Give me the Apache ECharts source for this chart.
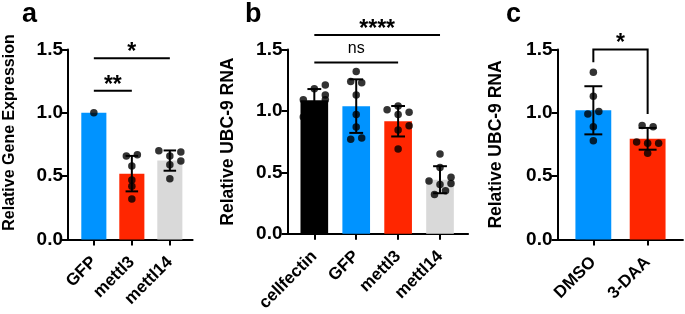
<!DOCTYPE html>
<html>
<head>
<meta charset="utf-8">
<script src="https://cdn.jsdelivr.net/npm/echarts@6/dist/echarts.min.js"></script>
<style>
html, body { margin: 0; padding: 0; background: #fff; }
#chart { width: 685px; height: 314px; }
</style>
</head>
<body>
<div id="chart"></div>
<script>
// panel a
const aCategories = ['GFP', 'mettl3', 'mettl14'];
const aMeans = [1.0, 0.52, 0.623];
const aSD = [0, 0.14, 0.08];
const aPoints = [[1.0], [0.66, 0.67, 0.58, 0.47, 0.42, 0.32], [0.70, 0.69, 0.66, 0.62, 0.59, 0.48]];
const aSig = [[0, 1, 1.175, '**'], [0, 2, 1.43, '*']];

// panel b
const bCategories = ['cellfectin', 'GFP', 'mettl3', 'mettl14'];
const bMeans = [1.086, 1.039, 0.916, 0.44];
const bSD = [0.092, 0.218, 0.124, 0.11];
const bPoints = [
    [1.09, 1.18, 1.21, 1.13, 1.09, 1.00, 0.95],
    [1.32, 1.24, 1.23, 1.13, 0.97, 0.87, 0.77, 0.78],
    [1.01, 1.04, 0.99, 0.97, 0.88, 0.845, 0.69],
    [0.65, 0.54, 0.46, 0.43, 0.41, 0.40, 0.35, 0.32]
];
const bSig = [[0, 2, 1.394, 'ns'], [0, 3, 1.618, '****']];

// panel c
const cCategories = ['DMSO', '3-DAA'];
const cMeans = [1.02, 0.795];
const cSD = [0.19, 0.086];
const cPoints = [[1.32, 1.13, 0.99, 1.01, 0.89, 0.78], [0.90, 0.89, 0.77, 0.76, 0.76, 0.68]];
const cSig = [[0, 1, 1.5, '*', 1.40, 0.99]];

// horizontal scatter of the dots (in steps)
const aJitter = [[0], [-1, 1, 0, 0, 0, 0], [-2, 2, 0, 2, 0, 0]];
const bJitter = [[-2, 0, 2, 2, 2, 0, -2], [0, -1, 1, 0, 0, 0, -1, 1], [-2, 0, 2, 0, 2, 0, 0], [0, 0, 2, -2, 2, 0, 1, -1]];
const cJitter = [[0, 0, -1, 1, 0, 0], [-1, 1, -2, 0, 2, 0]];

const BLUE = '#0093FF', RED = '#FF2600', GREY = '#D9D9D9', BLACK = '#000000';
const FONT = "'Liberation Sans', Arial, sans-serif";
const STEP = 5.5;

function makePanel(i, cats, means, sd, points, jitter, sig, colors, lay) {
    const barWidth = lay.spacing * 0.66;
    const cap = barWidth / 2;
    const width = (lay.max - lay.min) * lay.spacing;
    const ticks = cats.map((c, j) => j);

    const grid = { left: lay.left, top: 49.5, height: 190, width: width };
    const xAxis = {
        gridIndex: i, type: 'value', min: lay.min, max: lay.max,
        axisLine: { show: true, onZero: false, lineStyle: { color: '#000', width: 2 } },
        axisTick: { show: true, customValues: ticks, length: 6, lineStyle: { color: '#000', width: 2 } },
        axisLabel: {
            customValues: ticks, formatter: v => cats[Math.round(v)], rotate: 45, margin: 20,
            fontSize: 17, fontWeight: 'bold', color: '#000', fontFamily: FONT
        },
        splitLine: { show: false }
    };
    const yAxis = {
        gridIndex: i, type: 'value', min: 0, max: 1.5, interval: 0.5,
        name: lay.name, nameLocation: 'middle', nameGap: lay.nameGap,
        nameTextStyle: { fontSize: lay.nameSize, fontWeight: 'bold', color: '#000', fontFamily: FONT, padding: lay.namePad },
        axisLine: { show: true, onZero: false, lineStyle: { color: '#000', width: 2 } },
        axisTick: { show: true, length: 6, lineStyle: { color: '#000', width: 2 } },
        axisLabel: { formatter: v => v.toFixed(1), fontSize: 19, fontWeight: 'bold', color: '#000', fontFamily: FONT, margin: 5 },
        splitLine: { show: false }
    };

    const dots = [];
    points.forEach((vals, j) => vals.forEach((v, k) => {
        dots.push({ value: [j, v], symbolOffset: [jitter[j][k] * STEP, 0] });
    }));

    const series = [
        {
            type: 'bar', xAxisIndex: i, yAxisIndex: i, barWidth: barWidth, silent: true, z: 1,
            data: means.map((m, j) => ({ value: [j, m], itemStyle: { color: colors[j] } }))
        },
        {
            type: 'custom', xAxisIndex: i, yAxisIndex: i, silent: true, z: 2,
            data: means.map((m, j) => [j, m, sd[j]]),
            renderItem: (params, api) => {
                const x = api.value(0), m = api.value(1), s = api.value(2);
                if (!s) return null;
                const top = api.coord([x, m + s]);
                const bot = api.coord([x, m - s]);
                const st = { stroke: '#000', lineWidth: 2 };
                return {
                    type: 'group', children: [
                        { type: 'line', shape: { x1: top[0], y1: top[1], x2: bot[0], y2: bot[1] }, style: st },
                        { type: 'line', shape: { x1: top[0] - cap / 2, y1: top[1], x2: top[0] + cap / 2, y2: top[1] }, style: st },
                        { type: 'line', shape: { x1: bot[0] - cap / 2, y1: bot[1], x2: bot[0] + cap / 2, y2: bot[1] }, style: st }
                    ]
                };
            }
        },
        {
            type: 'scatter', xAxisIndex: i, yAxisIndex: i, silent: true, z: 3,
            symbolSize: 7.5, itemStyle: { color: '#000' }, data: dots
        },
        {
            type: 'custom', xAxisIndex: i, yAxisIndex: i, silent: true, z: 4, clip: false,
            data: sig.map(s => [s[0], s[2]]),
            renderItem: (params, api) => {
                const s = sig[params.dataIndex];
                const p1 = api.coord([s[0], s[2]]);
                const p2 = api.coord([s[1], s[2]]);
                let pts = [p1, p2];
                if (s.length > 4) {
                    pts = [[p1[0], api.coord([s[0], s[4]])[1]], p1, p2, [p2[0], api.coord([s[1], s[5]])[1]]];
                }
                const isNs = s[3] === 'ns';
                return {
                    type: 'group', children: [
                        { type: 'polyline', shape: { points: pts }, style: { stroke: '#000', lineWidth: 2, fill: null } },
                        {
                            type: 'text', x: (p1[0] + p2[0]) / 2, y: isNs ? p1[1] - 6 : p1[1] + 6,
                            style: {
                                text: s[3], align: 'center', verticalAlign: 'bottom', fill: '#000',
                                font: (isNs ? 'normal 16px ' : 'bold 23px ') + FONT
                            }
                        }
                    ]
                };
            }
        }
    ];
    return { grid, xAxis, yAxis, series };
}

const panels = [
    makePanel(0, aCategories, aMeans, aSD, aPoints, aJitter, aSig, [BLUE, RED, GREY],
        { left: 68, spacing: 38, min: -0.68, max: 2.6, name: 'Relative Gene Expression', nameGap: 50, nameSize: 16, namePad: [0, 0, 0, 24] }),
    makePanel(1, bCategories, bMeans, bSD, bPoints, bJitter, bSig, [BLACK, BLUE, RED, GREY],
        { left: 287.5, spacing: 41.9, min: -0.64, max: 3.67, name: 'Relative UBC-9 RNA', nameGap: 50, nameSize: 17.5, namePad: [0, 0, 0, 0] }),
    makePanel(2, cCategories, cMeans, cSD, cPoints, cJitter, cSig, [BLUE, RED],
        { left: 557.5, spacing: 54.3, min: -0.66, max: 1.65, name: 'Relative UBC-9 RNA', nameGap: 52, nameSize: 17.5, namePad: [0, 0, 0, 0] })
];

const letterStyle = { fontSize: 27, fontWeight: 'bold', color: '#000', fontFamily: FONT };
const chart = echarts.init(document.getElementById('chart'));
chart.setOption({
    animation: false,
    textStyle: { fontFamily: FONT },
    title: [
        { text: 'a', left: 22, top: 1, padding: 0, textStyle: letterStyle },
        { text: 'b', left: 245, top: 1, padding: 0, textStyle: letterStyle },
        { text: 'c', left: 506, top: 1, padding: 0, textStyle: letterStyle }
    ],
    grid: panels.map(p => p.grid),
    xAxis: panels.map(p => p.xAxis),
    yAxis: panels.map(p => p.yAxis),
    series: panels.flatMap(p => p.series)
});
</script>
</body>
</html>
